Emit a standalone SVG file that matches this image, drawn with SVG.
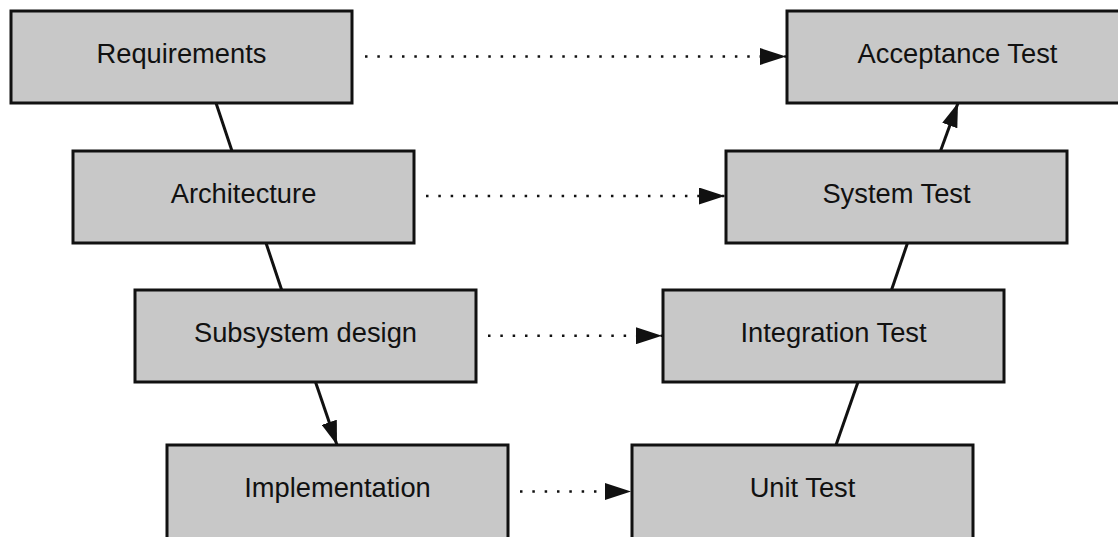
<svg xmlns="http://www.w3.org/2000/svg" width="1118" height="537" viewBox="0 0 1118 537">
<style>
.box{fill:#c8c8c8;stroke:#111;stroke-width:3}
.lbl{font-family:"Liberation Sans",Arial,sans-serif;font-size:27.3px;fill:#111;text-anchor:middle}
.solid{stroke:#111;stroke-width:3;fill:none}
.dot{stroke:#111;stroke-width:2.5;fill:none;stroke-dasharray:2.5 9.83}
</style>
<defs>
<marker id="ah" markerUnits="userSpaceOnUse" markerWidth="26" markerHeight="17" refX="26" refY="8.5" orient="auto">
<path d="M0,0 L26,8.5 L0,17 z" fill="#111"/>
</marker>
<marker id="ahs" markerUnits="userSpaceOnUse" markerWidth="24" markerHeight="16" refX="24" refY="8" orient="auto">
<path d="M0,0 L24,8 L0,16 z" fill="#111"/>
</marker>
</defs>
<rect width="1118" height="537" fill="#fff"/>
<g id="connectors">
<line class="dot" x1="365" y1="56.5" x2="786" y2="56.5" marker-end="url(#ah)"/>
<line class="dot" x1="426" y1="196" x2="725" y2="196" marker-end="url(#ah)"/>
<line class="dot" x1="488" y1="335.7" x2="662" y2="335.7" marker-end="url(#ah)"/>
<line class="dot" x1="520" y1="491.5" x2="631" y2="491.5" marker-end="url(#ah)"/>
<line class="solid" x1="216" y1="103" x2="232" y2="151"/>
<line class="solid" x1="266" y1="243" x2="281.7" y2="290"/>
<line class="solid" x1="315.5" y1="382" x2="337" y2="445" marker-end="url(#ahs)"/>
<line class="solid" x1="836" y1="445" x2="858" y2="382"/>
<line class="solid" x1="891.5" y1="290" x2="907.5" y2="243"/>
<line class="solid" x1="940.5" y1="151" x2="958" y2="103" marker-end="url(#ahs)"/>
</g>
<g id="requirements"><rect class="box" x="11" y="11" width="341" height="92"/><text class="lbl" x="181.5" y="63">Requirements</text></g>
<g id="acceptance-test"><rect class="box" x="787" y="11" width="341" height="92"/><text class="lbl" x="957.5" y="63">Acceptance Test</text></g>
<g id="architecture"><rect class="box" x="73" y="151" width="341" height="92"/><text class="lbl" x="243.5" y="203">Architecture</text></g>
<g id="system-test"><rect class="box" x="726" y="151" width="341" height="92"/><text class="lbl" x="896.5" y="203">System Test</text></g>
<g id="subsystem-design"><rect class="box" x="135" y="290" width="341" height="92"/><text class="lbl" x="305.5" y="342">Subsystem design</text></g>
<g id="integration-test"><rect class="box" x="663" y="290" width="341" height="92"/><text class="lbl" x="833.5" y="342">Integration Test</text></g>
<g id="implementation"><rect class="box" x="167" y="445" width="341" height="94"/><text class="lbl" x="337.5" y="497">Implementation</text></g>
<g id="unit-test"><rect class="box" x="632" y="445" width="341" height="94"/><text class="lbl" x="802.5" y="497">Unit Test</text></g>
</svg>
